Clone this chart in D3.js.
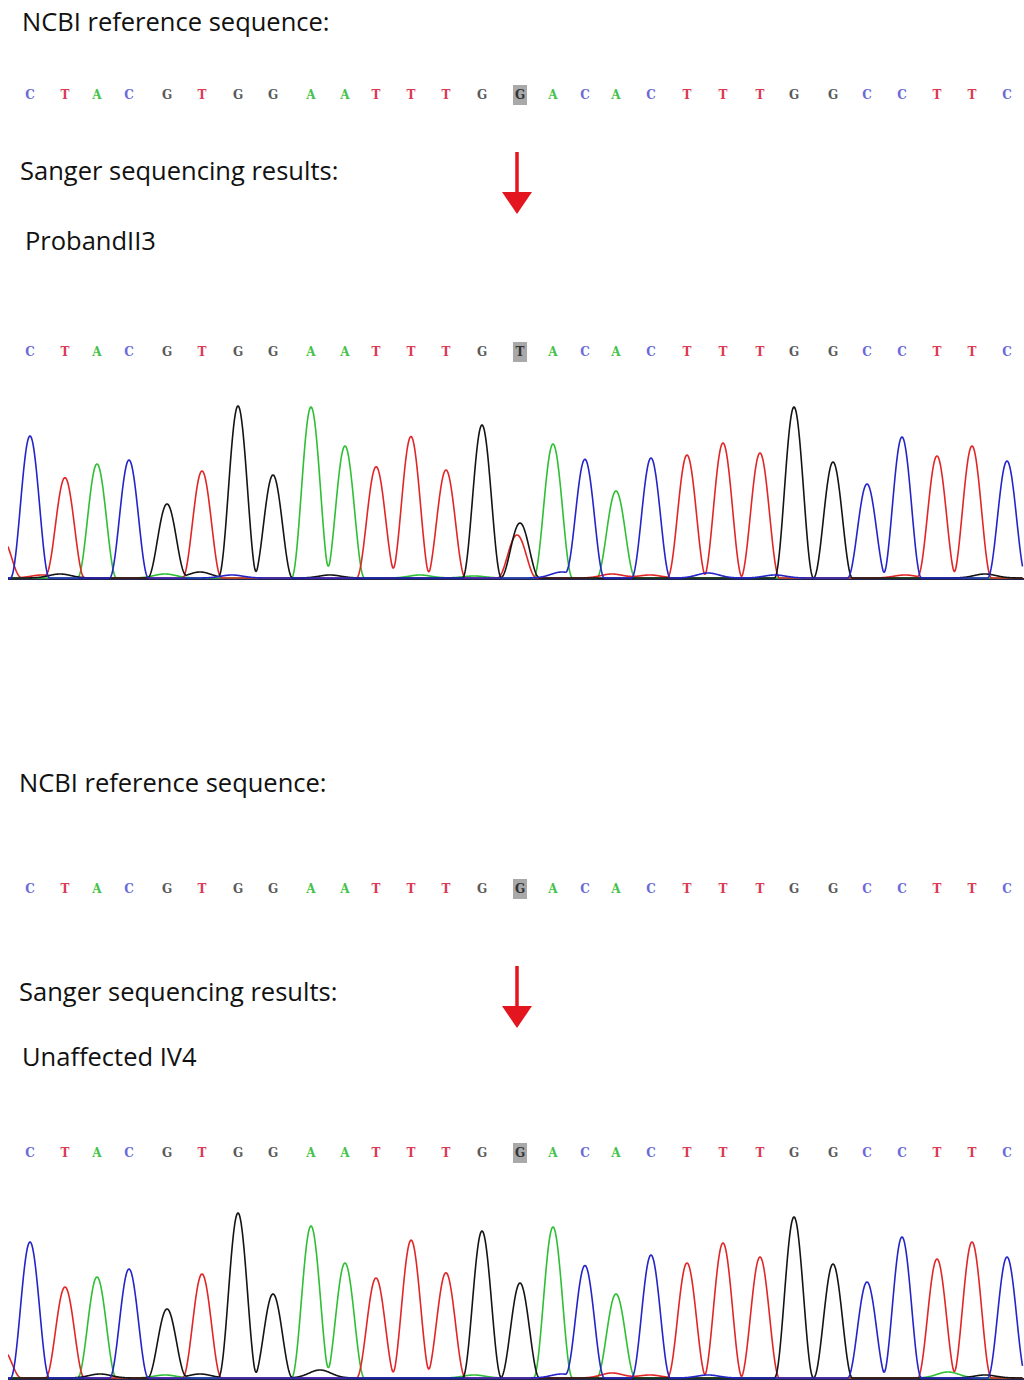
<!DOCTYPE html>
<html>
<head>
<meta charset="utf-8">
<script src="https://cdn.jsdelivr.net/npm/d3@7"></script>
<style>
  body { margin: 0; background: #fff; }
  .title { font-family: 'Open Sans', sans-serif; font-size: 25.5px; fill: #111; }
  .base { font-family: 'DejaVu Serif', serif; font-size: 12px; font-weight: bold; }
</style>
</head>
<body>
<div id="chart"></div>
<script>
// Sanger sequencing figure: reference sequence vs. chromatograms

// base call positions (scan units, shared by all rows)
let basePos = [30, 65, 97, 129, 167, 202, 238, 273, 311, 345, 376, 411, 446, 482, 520,
  553, 585, 616, 651, 687, 723, 760, 794, 833, 867, 902, 937, 972, 1007];
let refSeq = 'CTACGTGGAATTTGGACACTTTGGCCTTC'.split('');
let probandSeq = 'CTACGTGGAATTTGTACACTTTGGCCTTC'.split('');
let controlSeq = 'CTACGTGGAATTTGGACACTTTGGCCTTC'.split('');
let highlightIdx = 14;

// peak heights (signal), one per base of refSeq
let probandHeights = [142, 100, 114, 118, 74, 107, 172, 103, 171, 132, 109, 141, 108, 153, 55,
  134, 118, 87, 120, 123, 135, 125, 171, 116, 94, 141, 122, 132, 117];
let controlHeights = [136, 91, 101, 109, 69, 104, 165, 84, 152, 115, 100, 135, 105, 147, 95,
  151, 112, 84, 123, 115, 135, 121, 161, 114, 96, 141, 119, 136, 121];

// heterozygous T peak under the G at the variant site (proband)
let probandExtraPos = [517];
let probandExtraBase = ['T'];
let probandExtraH = [43];

// small background humps
let noise1Pos = [2, 42, 60, 165, 200, 232, 330, 388, 420, 474, 562, 612, 650, 708, 775, 905, 985];
let noise1Base = ['T', 'T', 'G', 'A', 'G', 'C', 'G', 'T', 'A', 'A', 'C', 'T', 'T', 'C', 'C', 'T', 'G'];
let noise1H = [40, 3, 4, 4, 6, 3, 3, 4, 3, 2, 6, 4, 3, 5, 3, 3, 4];
let noise2Pos = [2, 100, 165, 200, 320, 420, 474, 562, 612, 650, 708, 948, 985];
let noise2Base = ['T', 'G', 'A', 'G', 'G', 'T', 'A', 'C', 'T', 'T', 'C', 'A', 'G'];
let noise2H = [30, 4, 3, 4, 8, 4, 3, 4, 5, 3, 3, 6, 3];

let letterColor = {A: '#46c24a', C: '#6a6ad8', G: '#5a5a5a', T: '#dc3a55'};
let traceColor = {A: '#2fbf34', C: '#2424c8', G: '#141414', T: '#e02626'};
let drawOrder = ['A', 'T', 'G', 'C'];

let width = 1024, height = 1380;
let svg = d3.select('#chart').append('svg')
  .attr('width', width)
  .attr('height', height);

let xScale = d3.scaleLinear().domain([0, 1024]).range([0, 1024]);
let halfWidth = 19.5;

// titles
function label(txt, x, y) {
  svg.append('text').attr('class', 'title').attr('x', x).attr('y', y).text(txt);
}
label('NCBI reference sequence:', 22, 31);
label('Sanger sequencing results:', 20, 180);
label('ProbandII3', 25, 250);
label('NCBI reference sequence:', 19, 792);
label('Sanger sequencing results:', 19, 1001);
label('Unaffected IV4', 22, 1066);

// sequence row
function seqRow(seq, cy) {
  let g = svg.append('g');
  g.append('rect')
    .attr('x', xScale(basePos[highlightIdx]) - 7)
    .attr('y', cy - 10)
    .attr('width', 14)
    .attr('height', 20)
    .attr('fill', '#a9a9a9');
  g.selectAll('text')
    .data(seq)
    .enter().append('text')
    .attr('class', 'base')
    .attr('x', function(d, i) { return xScale(basePos[i]); })
    .attr('y', cy)
    .attr('dy', '0.36em')
    .attr('text-anchor', 'middle')
    .attr('fill', function(d, i) { return i == highlightIdx ? '#333' : letterColor[d]; })
    .text(function(d) { return d; });
}
seqRow(refSeq, 95);
seqRow(probandSeq, 352);
seqRow(refSeq, 889);
seqRow(controlSeq, 1153);

// red arrows
function arrow(x, y0, y1) {
  svg.append('line')
    .attr('x1', x).attr('x2', x)
    .attr('y1', y0).attr('y2', y1 - 18)
    .attr('stroke', '#e3151f').attr('stroke-width', 3.5);
  svg.append('path')
    .attr('d', 'M' + (x - 15) + ',' + (y1 - 22) + 'L' + (x + 15) + ',' + (y1 - 22) + 'L' + x + ',' + y1 + 'Z')
    .attr('fill', '#e3151f');
}
arrow(517, 152, 214);
arrow(517, 966, 1028);

// peak shape: cos^2 bump for called peaks, wider gaussian for background humps
function peakValue(p, x) {
  let d = x - p.pos;
  if (p.h < 10) return p.h * Math.exp(-d * d / (2 * 11 * 11));
  if (Math.abs(d) >= halfWidth) return 0;
  let c = Math.cos(Math.PI * d / (2 * halfWidth));
  return p.h * c * c;
}

// chromatogram
function chromatogram(peaks, baseY) {
  let yScale = d3.scaleLinear().domain([0, 180]).range([baseY, baseY - 180]);
  let xs = d3.range(8, 1023, 0.5);
  let g = svg.append('g');
  g.append('clipPath').attr('id', 'clip' + baseY)
    .append('rect').attr('x', 8).attr('y', baseY - 200).attr('width', 1016).attr('height', 210);
  g.append('line')
    .attr('x1', 8).attr('x2', 1024)
    .attr('y1', yScale(0) + 1).attr('y2', yScale(0) + 1)
    .attr('stroke', '#1d2550').attr('stroke-width', 2);
  let line = d3.line()
    .x(function(d) { return xScale(d[0]); })
    .y(function(d) { return yScale(d[1]); });
  drawOrder.forEach(function(b) {
    let pk = peaks.filter(function(p) { return p.base == b; });
    let pts = xs.map(function(x) {
      let v = 0;
      pk.forEach(function(p) { v += peakValue(p, x); });
      return [x, v];
    });
    g.append('path')
      .attr('clip-path', 'url(#clip' + baseY + ')')
      .attr('d', line(pts))
      .attr('fill', 'none')
      .attr('stroke', traceColor[b])
      .attr('stroke-width', 1.6)
      .attr('stroke-linejoin', 'round');
  });
}

function buildPeaks(heights, xPos, xBase, xH, nPos, nBase, nH) {
  let peaks = refSeq.map(function(b, i) { return {pos: basePos[i], base: b, h: heights[i]}; });
  xPos.forEach(function(p, i) { peaks.push({pos: p, base: xBase[i], h: xH[i]}); });
  nPos.forEach(function(p, i) { peaks.push({pos: p, base: nBase[i], h: nH[i]}); });
  return peaks;
}

chromatogram(buildPeaks(probandHeights, probandExtraPos, probandExtraBase, probandExtraH,
  noise1Pos, noise1Base, noise1H), 578);
chromatogram(buildPeaks(controlHeights, [], [], [], noise2Pos, noise2Base, noise2H), 1378);
</script>
</body>
</html>
